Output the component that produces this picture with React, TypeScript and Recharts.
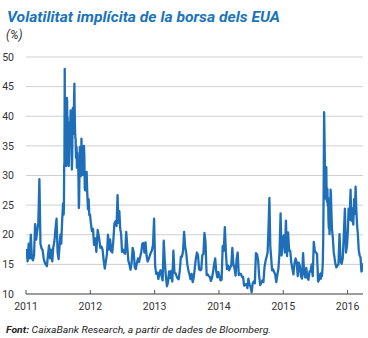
import { LineChart, Line, XAxis, YAxis, CartesianGrid } from 'recharts'

// VIX, lectures per mes (llegit del gràfic); més punts als mesos de més volatilitat
const years = [2011, 2012, 2013, 2014, 2015, 2016]

const vix2011 = [
  [17.6, 15.5, 18.5, 16.0, 20.0],
  [16.0, 15.7, 16.5, 21.8, 19.2],
  [20.7, 22.0, 29.4, 18.5, 17.7],
  [17.4, 16.0, 15.3, 15.0, 14.7],
  [16.5, 18.2, 16.0, 17.5, 15.5],
  [17.9, 18.9, 21.0, 22.7, 17.0],
  [15.9, 18.0, 20.0, 18.5, 22.5, 25.3],
  [23.4, 24.8, 31.7, 32.0, 48.0, 35.1, 43.0, 39.0, 36.4, 32.9, 31.6, 42.7, 43.1, 42.4, 36.3, 39.8, 35.6, 32.3, 32.9, 31.6],
  [33.9, 38.3, 37.0, 39.0, 38.5, 41.0, 38.6, 36.9, 33.6, 31.0, 32.7, 37.8, 41.4, 39.8, 37.0, 38.8, 43.0],
  [45.5, 40.8, 37.8, 36.3, 36.2, 33.0, 32.9, 34.8, 31.3, 33.8, 31.3, 31.7, 32.2, 29.3, 24.5, 25.5, 29.9],
  [34.8, 32.7, 30.5, 29.9, 36.2, 32.8, 33.3, 30.1, 34.5, 32.9, 35.0, 33.5, 27.8],
  [27.5, 27.9, 30.6, 26.9, 24.3, 26.0, 23.3, 23.4],
]

const vix2012 = [
  [22.0, 20.6, 21.0, 18.3, 19.4],
  [17.1, 20.8, 19.5, 17.8],
  [18.0, 17.4, 15.6, 14.3, 15.5],
  [16.7, 20.0, 17.5, 19.2, 17.2],
  [17.0, 19.1, 21.9, 22.3, 21.5],
  [26.7, 22.0, 24.0, 21.0, 20.1, 17.1],
  [17.5, 17.0, 16.8, 20.5, 18.0],
  [15.6, 15.0, 14.1, 15.2, 17.8],
  [17.0, 14.5, 14.2, 15.3, 16.0],
  [15.4, 16.3, 17.0, 18.5, 18.6],
  [17.0, 18.7, 16.4, 15.5, 15.9],
  [16.5, 17.0, 17.4, 18.3, 22.7],
]

const vix2013 = [
  [14.7, 13.4, 13.6, 12.5, 13.6],
  [14.0, 13.0, 12.3, 19.0, 15.5],
  [13.0, 11.3, 12.0, 13.8, 12.7],
  [13.9, 12.1, 17.3, 13.6, 13.5],
  [13.0, 12.6, 12.5, 14.0, 16.3],
  [16.3, 17.2, 20.5, 18.0, 16.9],
  [15.0, 14.0, 13.3, 12.5, 13.4],
  [12.0, 12.8, 14.4, 16.0, 17.0],
  [16.5, 14.2, 14.0, 14.1, 16.6],
  [16.7, 20.3, 18.7, 13.2, 13.3],
  [13.0, 12.9, 12.2, 12.7, 13.7],
  [15.0, 16.0, 13.8, 12.8, 13.7],
]

const vix2014 = [
  [12.9, 12.3, 12.4, 18.1, 17.3],
  [21.3, 17.0, 14.2, 14.8, 14.0],
  [14.5, 14.8, 17.8, 15.0, 14.4],
  [13.1, 15.9, 17.0, 13.2, 13.4],
  [13.4, 12.9, 12.9, 11.4, 11.6],
  [11.7, 11.0, 12.6, 11.6, 11.2],
  [10.3, 11.8, 12.1, 11.8, 16.9],
  [16.7, 15.8, 13.1, 11.5, 11.9],
  [12.3, 12.0, 14.5, 15.6, 16.3],
  [17.0, 21.2, 26.2, 18.0, 16.1, 14.0],
  [14.2, 13.7, 13.3, 12.0, 13.3],
  [14.3, 17.0, 23.6, 16.5, 19.2],
]

const vix2015 = [
  [19.9, 17.0, 22.4, 16.4, 20.4],
  [17.3, 17.3, 15.3, 14.3, 13.3],
  [15.2, 16.0, 15.4, 13.0, 15.3],
  [14.7, 13.0, 12.6, 16.9, 13.5],
  [12.8, 14.4, 12.7, 12.4, 13.8],
  [13.8, 15.0, 13.0, 18.8, 17.2],
  [17.0, 16.8, 12.1, 12.4, 13.4],
  [12.6, 13.6, 13.0, 13.8, 15.3, 19.1, 28.0, 40.7, 36.0, 30.3, 26.1, 28.4],
  [31.4, 26.1, 25.6, 27.8, 24.9, 26.2, 22.5, 21.1, 22.3, 20.1, 22.0, 23.6, 27.6, 26.8, 24.4],
  [21.0, 19.5, 17.1, 16.0, 15.0, 14.5],
  [14.8, 15.0, 20.1, 15.5, 15.1],
  [16.0, 20.0, 24.4, 17.0, 18.2],
]

const vix2016 = [
  [20.7, 24.4, 22.5, 24.0, 27.6, 22.4, 24.5, 22.4],
  [21.7, 26.0, 23.5, 28.1, 24.1, 21.5, 20.0],
  [17.4, 16.5, 16.2, 13.8, 14.0, 15.2],
]

const series = [vix2011, vix2012, vix2013, vix2014, vix2015, vix2016]
const yTicks = [10, 15, 20, 25, 30, 35, 40, 45, 50]

const data = years.flatMap((year, yi) =>
  series[yi].flatMap((month, mi) =>
    month.map((v, k) => ({ t: year + (mi + (k + 0.5) / month.length) / 12, v }))
  )
)

const font = 'Roboto, "Open Sans", sans-serif'

const YearTick = ({ x, y, payload }: any) => (
  <g>
    <line x1={x} x2={x} y1={y - 4} y2={y} stroke="#555" strokeWidth={1} />
    <text x={x} y={y + 16} textAnchor="middle" fontSize={10.5} fill="#333" fontFamily={font}>
      {payload.value}
    </text>
  </g>
)

export default function App() {
  return (
    <div style={{ position: 'absolute', left: 0, top: 0, width: 368, height: 338, background: '#fff' }}>
      <LineChart width={368} height={338} data={data} margin={{ top: 57, right: 5, bottom: 14, left: 6 }}>
        <CartesianGrid vertical={false} stroke="#cfcfcf" strokeWidth={1} />
        <XAxis
          dataKey="t"
          type="number"
          domain={[2011, 2016.24]}
          ticks={years}
          allowDataOverflow
          height={30}
          tickLine={false}
          tickSize={0}
          tickMargin={0}
          axisLine={{ stroke: '#555', strokeWidth: 1 }}
          tick={<YearTick />}
          interval={0}
        />
        <YAxis
          domain={[10, 50]}
          ticks={yTicks}
          width={20}
          axisLine={false}
          tickLine={false}
          tickMargin={6}
          tick={{ fontSize: 10.5, fill: '#333', fontFamily: font }}
          interval={0}
        />
        <Line
          type="linear"
          dataKey="v"
          stroke="#1f6fb8"
          strokeWidth={2.3}
          dot={false}
          isAnimationActive={false}
          strokeLinejoin="round"
        />
      </LineChart>
      <svg width={368} height={338} style={{ position: 'absolute', left: 0, top: 0, pointerEvents: 'none' }}>
        <text x={7} y={22} fontSize={14.5} fontWeight="bold" fontStyle="italic" fill="#1a74bb" fontFamily={font} textLength={273} lengthAdjust="spacingAndGlyphs">
          Volatilitat implícita de la borsa dels EUA
        </text>
        <text x={6} y={39} fontSize={12} fontStyle="italic" fill="#333" fontFamily={font}>
          (%)
        </text>
        <text x={6} y={333} fontSize={9} fontStyle="italic" fill="#222" fontFamily={font} textLength={265} lengthAdjust="spacingAndGlyphs">
          <tspan fontWeight="bold">Font:</tspan> CaixaBank Research, a partir de dades de Bloomberg.
        </text>
      </svg>
    </div>
  )
}
